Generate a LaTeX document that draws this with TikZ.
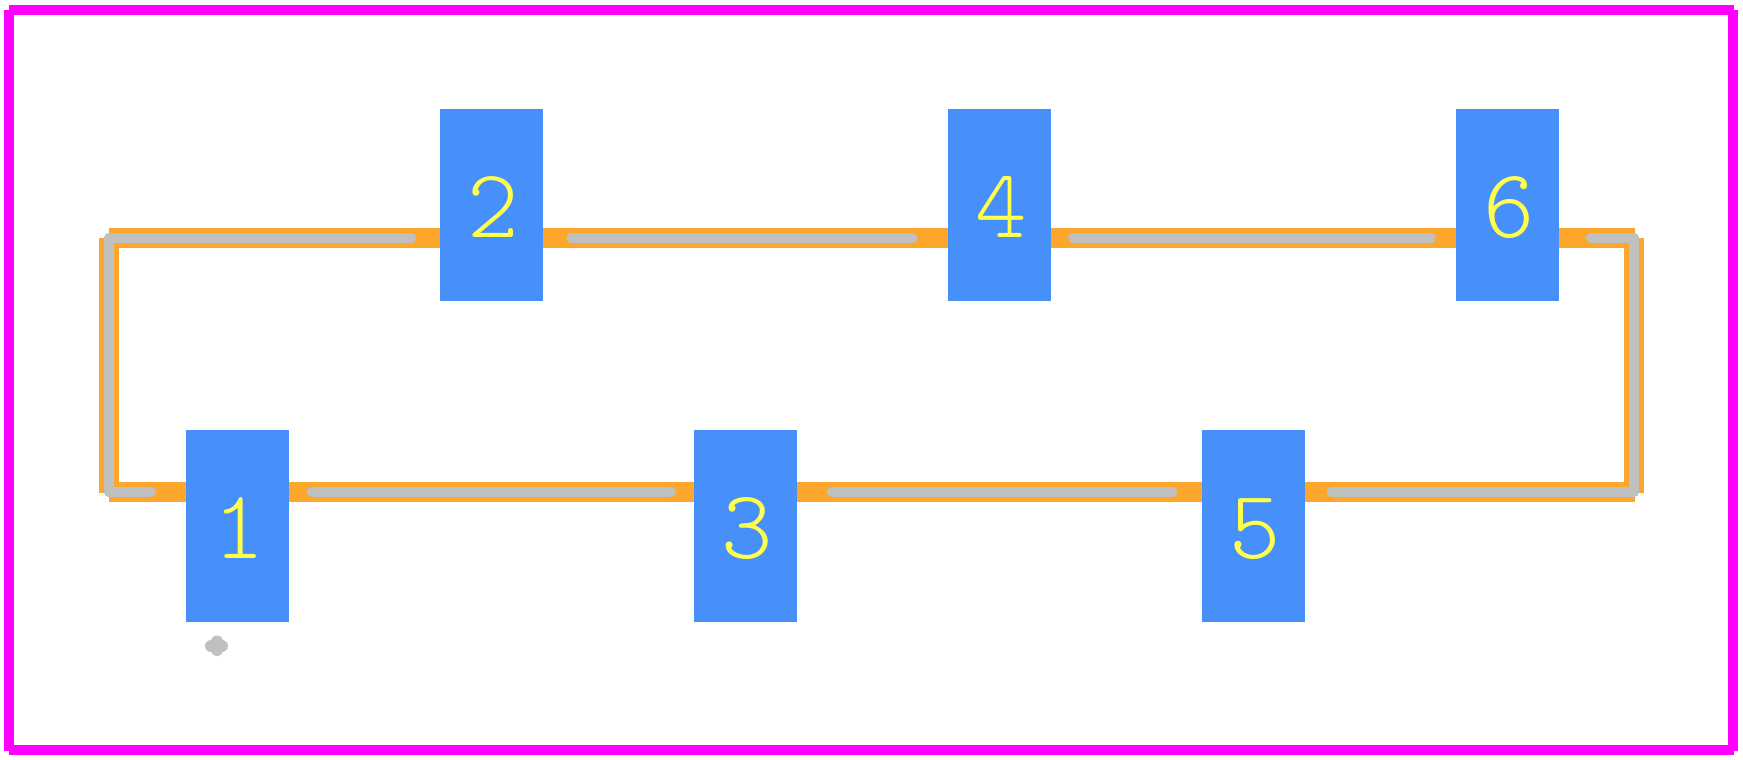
\documentclass[tikz,border=0pt]{standalone}
\usepackage{tikz}
\definecolor{padblue}{RGB}{71,144,249}
\definecolor{silkorange}{RGB}{252,166,44}
\definecolor{bodygray}{RGB}{192,192,192}
\definecolor{outlinepink}{RGB}{255,0,255}
\definecolor{numyellow}{RGB}{255,255,77}
\newcommand{\padfont}{\fontfamily{lmtt}\fontseries{l}\fontsize{98}{98}\selectfont}

\begin{document}
\begin{tikzpicture}[x=1pt,y=-1pt]
 \tikzset{outline/.style={outlinepink,line width=10pt}}
 \tikzset{silk/.style={silkorange,line width=20pt}}
 \tikzset{body/.style={bodygray,line width=10pt,line cap=round}}
 \tikzset{pad/.style={fill=padblue,text=numyellow,font=\padfont,inner sep=0pt,minimum width=103pt,minimum height=192pt,text height=64pt,text depth=0pt,execute at begin node=\hspace*{4pt}}}
 \useasboundingbox[fill=white] (0,0) rectangle (1743,760);

 \draw[outline] (9,10) -- (1734,10);
 \draw[outline] (9,750) -- (1734,750);
 \draw[outline] (9,10) -- (9,751);
 \draw[outline] (1733,10) -- (1733,751);

 \draw[silk] (109,238) -- (1635,238);
 \draw[silk] (109,492) -- (1635,492);
 \draw[silk] (109,238) -- (109,493);
 \draw[silk] (1634,238) -- (1634,493);

 \node[pad] (pad1) at (237.5,526) {1};
 \node[pad] (pad2) at (491.5,205) {2};
 \node[pad] (pad3) at (745.5,526) {3};
 \node[pad] (pad4) at (999.5,205) {4};
 \node[pad] (pad5) at (1253.5,526) {5};
 \node[pad] (pad6) at (1507.5,205) {6};

 \draw[body] (109,238) -- (411,238);
 \draw[body] (571.5,238) -- (912.5,238);
 \draw[body] (1073,238) -- (1431,238);
 \draw[body] (1591,238) -- (1634,238);
 \draw[body] (109,492) -- (151,492);
 \draw[body] (311.5,492) -- (671,492);
 \draw[body] (831.5,492) -- (1172.5,492);
 \draw[body] (1331.5,492) -- (1634,492);
 \draw[body] (109,238) -- (109,492);
 \draw[body] (1634,238) -- (1634,492);

 % pin one mark
 \draw[bodygray,line width=12pt,line cap=round] (211,646) -- (222,646);
 \draw[bodygray,line width=12pt,line cap=round] (217,641.5) -- (217,650);
\end{tikzpicture}
\end{document}
